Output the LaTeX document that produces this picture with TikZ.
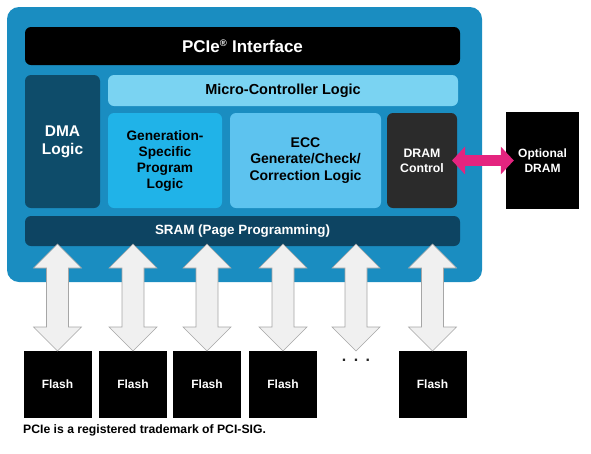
\documentclass[tikz,border=0pt]{standalone}
\usepackage{fontspec}
\setmainfont{Liberation Sans}
\usetikzlibrary{arrows.meta,calc}
\definecolor{ctlblue}{HTML}{1A8DC1}
\definecolor{dmadark}{HTML}{0E4C6A}
\definecolor{sramdark}{HTML}{0D4462}
\definecolor{mculight}{HTML}{7AD3F2}
\definecolor{genblue}{HTML}{20B3E8}
\definecolor{eccblue}{HTML}{5DC3EF}
\definecolor{ctlgray}{HTML}{2B2B2B}
\definecolor{linkpink}{HTML}{E4247F}
\definecolor{busfill}{HTML}{F0F0F0}
\newcommand{\fsz}[2]{\fontsize{#1}{#2}\selectfont\bfseries}

\begin{document}
\begin{tikzpicture}[x=1pt, y=-1pt,
  blk/.style={rounded corners=6pt, minimum width=#1, inner sep=0pt, outer sep=0pt, align=center},
  flashbox/.style={fill=black, text=white, minimum width=68pt, minimum height=67pt, inner sep=0pt, outer sep=0pt, font=\fsz{12}{14}},
  bus/.style={draw=gray!70, fill=busfill, line width=0.6pt, line join=miter},
  link/.style={draw=linkpink, line width=11pt, {Triangle[width=27pt,length=13pt]}-{Triangle[width=27pt,length=13pt]}},
]
  \useasboundingbox (0,0) rectangle (591,453);

  % Controller panel
  \node[fill=ctlblue, rounded corners=12pt, minimum width=475pt, minimum height=275pt, inner sep=0pt] (panel) at (244.5,144.5) {};

  % Blocks inside the panel
  \node[blk=435pt, fill=black, text=white, minimum height=38pt, font=\fsz{17}{20}] (pcie) at (242.5,46) {PCIe\textsuperscript{\fontsize{9.5}{9.5}\selectfont®} Interface};
  \node[blk=75pt, fill=dmadark, text=white, minimum height=133pt, font=\fsz{15.5}{18}] (dma) at (62.5,141.5) {DMA\\Logic};
  \node[blk=350pt, fill=mculight, text=black, minimum height=31pt, font=\fsz{14.5}{16}] (mcl) at (283,90.5) {Micro-Controller Logic};
  \node[blk=114pt, fill=genblue, text=black, minimum height=95pt, font=\fsz{13.7}{16}] (gen) at (165,160.5) {Generation-\\Specific\\Program\\Logic};
  \node[blk=151pt, fill=eccblue, text=black, minimum height=95pt, font=\fsz{14}{16.5}] (ecc) at (305.5,160.5) {ECC\\Generate/Check/\\Correction Logic};
  \node[blk=70pt, fill=ctlgray, text=white, minimum height=95pt, font=\fsz{12.3}{15}] (dramctl) at (422,160.5) {DRAM\\Control};
  \node[blk=435pt, fill=sramdark, text=white, minimum height=30pt, font=\fsz{13.4}{15}] (sram) at (242.5,231) {SRAM (Page Programming)};

  % External memory
  \node[fill=black, text=white, minimum width=73pt, minimum height=97pt, inner sep=0pt, align=center, font=\fsz{12}{15}] (optdram) at (542.5,160.5) {Optional\\DRAM};
  \node[flashbox] (f1) at (57.5,384.5) {Flash};
  \node[flashbox] (f2) at (133,384.5) {Flash};
  \node[flashbox] (f3) at (207,384.5) {Flash};
  \node[flashbox] (f4) at (283,384.5) {Flash};
  \node[inner sep=0pt, anchor=base, font=\fsz{16}{16}, text=black!85] (f5) at (356,361) {.\hspace{7.5pt}.\hspace{7.5pt}.};
  \node[flashbox] (f6) at (432.5,384.5) {Flash};

  % Flash buses
  \foreach \i in {1,...,6} {
    \coordinate (top\i) at ([yshift=2pt]sram.south -| f\i.north);
    \coordinate (bot\i) at (top\i |- f1.north);
    \draw[bus] (top\i) -- ++(24,24) -- ++(-13,0) -- ($(bot\i)+(11,-24)$) -- ++(13,0)
      -- (bot\i) -- ++(-24,-24) -- ++(13,0) -- ($(top\i)+(-11,24)$) -- ++(-13,0) -- cycle;
  }

  % DRAM link
  \draw[link] ([xshift=-5pt]dramctl.east) -- ([xshift=8pt]optdram.west);

  \node[anchor=west, inner sep=0pt, font=\fsz{12.2}{14}] (note) at (23,430) {PCIe is a registered trademark of PCI-SIG.};
\end{tikzpicture}
\end{document}
